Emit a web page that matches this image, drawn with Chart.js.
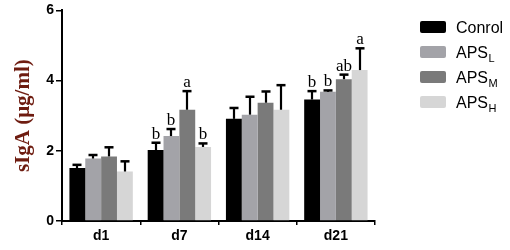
<!DOCTYPE html>
<html>
<head>
<meta charset="utf-8">
<script src="https://cdn.jsdelivr.net/npm/chart.js@4/dist/chart.umd.min.js"></script>
<style>
html,body{margin:0;padding:0;background:#fff;}
#wrap{width:510px;height:250px;position:relative;}
</style>
</head>
<body>
<div id="wrap"><canvas id="c" width="510" height="250"></canvas></div>
<script>
const categories = ['d1', 'd7', 'd14', 'd21'];
const seriesNames = ['Conrol', 'APS', 'APS', 'APS'];
const seriesSubs = ['', 'L', 'M', 'H'];
const controlMean = [1.51, 2.02, 2.91, 3.46];
const controlErr  = [1.60, 2.23, 3.22, 3.70];
const lowMean     = [1.78, 2.42, 3.03, 3.68];
const lowErr      = [1.88, 2.62, 3.54, 3.72];
const midMean     = [1.84, 3.17, 3.37, 4.04];
const midErr      = [2.10, 3.70, 3.69, 4.17];
const highMean    = [1.41, 2.11, 3.17, 4.30];
const highErr     = [1.70, 2.21, 3.87, 4.92];
const controlLetters = ['', 'b', '', 'b'];
const lowLetters     = ['', 'b', '', 'b'];
const midLetters     = ['', 'a', '', 'ab'];
const highLetters    = ['', 'b', '', 'a'];
const yTicks = [0, 2, 4, 6];
const yTitle = 'sIgA (μg/ml)';

const colors = ['#000000', '#a3a3a8', '#7a7a7a', '#d6d6d6'];
const means = [controlMean, lowMean, midMean, highMean];
const errs = [controlErr, lowErr, midErr, highErr];
const letters = [controlLetters, lowLetters, midLetters, highLetters];

const datasets = means.map((m, i) => ({
  label: seriesNames[i] + seriesSubs[i],
  data: m,
  backgroundColor: colors[i],
  borderWidth: 0,
  categoryPercentage: 0.81,
  barPercentage: 1.0,
  errTop: errs[i],
  sigLetters: letters[i]
}));

const errorPlugin = {
  id: 'errorBars',
  afterDatasetsDraw(chart) {
    const ctx = chart.ctx;
    const ys = chart.scales.y;
    chart.data.datasets.forEach((ds, di) => {
      const meta = chart.getDatasetMeta(di);
      meta.data.forEach((bar, i) => {
        const x = Math.round(bar.x);
        const yTop = bar.y;
        const yErr = ys.getPixelForValue(ds.errTop[i]);
        ctx.save();
        ctx.strokeStyle = '#000';
        ctx.lineWidth = 2.2;
        ctx.beginPath();
        ctx.moveTo(x, yTop);
        ctx.lineTo(x, yErr);
        ctx.stroke();
        ctx.lineWidth = 2.5;
        ctx.beginPath();
        ctx.moveTo(x - 4.5, yErr);
        ctx.lineTo(x + 4.5, yErr);
        ctx.stroke();
        const L = ds.sigLetters[i];
        if (L) {
          ctx.fillStyle = '#000';
          ctx.font = '17px "Liberation Serif", "Times New Roman", serif';
          ctx.textAlign = 'center';
          ctx.textBaseline = 'alphabetic';
          ctx.fillText(L, x, yErr - 4);
        }
        ctx.restore();
      });
    });
  }
};

const legendPlugin = {
  id: 'customLegend',
  afterDraw(chart) {
    const ctx = chart.ctx;
    const bx = 420, bw = 26, bh = 12;
    chart.data.datasets.forEach((ds, i) => {
      const cy = 27 + i * 25;
      ctx.save();
      ctx.fillStyle = ds.backgroundColor;
      ctx.beginPath();
      if (ctx.roundRect) ctx.roundRect(bx, cy - bh / 2, bw, bh, 2); else ctx.rect(bx, cy - bh / 2, bw, bh);
      ctx.fill();
      ctx.fillStyle = '#000';
      ctx.textBaseline = 'alphabetic';
      ctx.textAlign = 'left';
      ctx.font = '16px "Liberation Sans", Arial, sans-serif';
      const base = cy + 6;
      ctx.fillText(seriesNames[i], 456, base);
      const w = ctx.measureText(seriesNames[i]).width;
      if (seriesSubs[i]) {
        ctx.font = '11px "Liberation Sans", Arial, sans-serif';
        ctx.fillText(seriesSubs[i], 456 + w + 0.5, base + 4);
      }
      ctx.restore();
    });
  }
};

new Chart(document.getElementById('c'), {
  type: 'bar',
  data: { labels: categories, datasets: datasets },
  options: {
    responsive: false,
    animation: false,
    layout: { padding: { top: 10, right: 135, bottom: 0, left: 11 } },
    plugins: { legend: { display: false }, tooltip: { enabled: false } },
    scales: {
      x: {
        grid: { display: true, drawOnChartArea: false, drawTicks: true, tickLength: 4, color: '#000', lineWidth: 1.5 },
        border: { display: true, color: '#000', width: 2 },
        ticks: { color: '#000', font: { family: '"Liberation Sans", Arial, sans-serif', size: 14, weight: 'bold' }, padding: 3 },
        afterFit(scale) { scale.height = 29; }
      },
      y: {
        min: 0, max: 6,
        afterBuildTicks(scale) { scale.ticks = yTicks.map(v => ({ value: v })); },
        grid: { display: true, drawOnChartArea: false, drawTicks: true, tickLength: 6, color: '#000', lineWidth: 1.5 },
        border: { display: true, color: '#000', width: 2 },
        ticks: { color: '#000', font: { family: '"Liberation Sans", Arial, sans-serif', size: 14, weight: 'bold' }, padding: 2 },
        title: {
          display: true, text: yTitle, color: '#6e1c10',
          font: { family: '"Liberation Serif", "Times New Roman", serif', size: 21, weight: 'bold' },
          padding: { top: 0, bottom: 8 }
        },
        afterFit(scale) { scale.width = 51; }
      }
    }
  },
  plugins: [errorPlugin, legendPlugin]
});
</script>
</body>
</html>
